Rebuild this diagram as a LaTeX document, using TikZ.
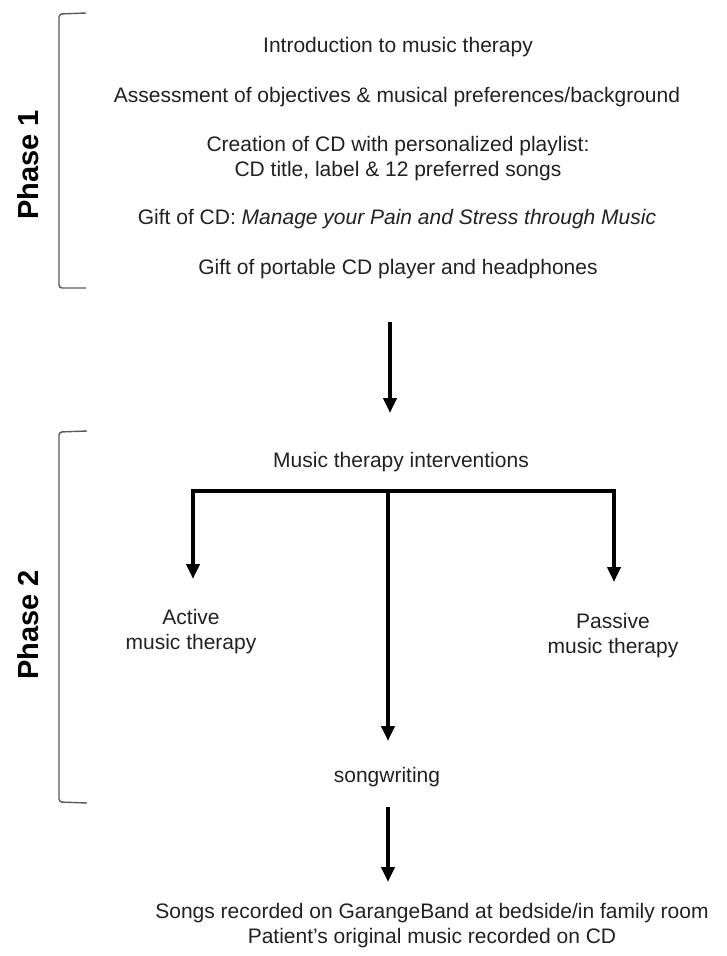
\documentclass[tikz,border=0pt]{standalone}
\usepackage{fontspec}
\setmainfont{Liberation Sans}
\usetikzlibrary{arrows.meta}
\definecolor{txt}{rgb}{0.13,0.13,0.13}
\definecolor{brk}{rgb}{0.35,0.35,0.35}
\begin{document}
\begin{tikzpicture}[x=1pt,y=-1pt,
  lbl/.style={text=txt,inner sep=0pt,anchor=base,align=center,font=\fontsize{21}{25}\selectfont},
  phase/.style={text=black,inner sep=0pt,rotate=90,font=\fontsize{29}{34}\selectfont\bfseries},
  bracket/.style={draw=brk,line width=1.4pt,rounded corners=3pt},
  flow/.style={draw=black,line width=4.5pt,-{Triangle[width=13pt,length=15pt]}},
  bar/.style={draw=black,line width=4.5pt}]
\useasboundingbox (0,0) rectangle (726,956);

% Phase 1
\node[phase] (p1) at (28,165) {Phase 1};
\draw[bracket] (86,13) -- (59,14) -- (59,288) -- (86,288);
\node[lbl] (intro) at (398,52) {Introduction to music therapy};
\node[lbl] (assess) at (397,102) {Assessment of objectives \& musical preferences/background};
\node[lbl] (create) at (398,176) {Creation of CD with personalized playlist:\\CD title, label \& 12 preferred songs};
\node[lbl] (gift) at (397,224) {Gift of CD: \textit{Manage your Pain and Stress through Music}};
\node[lbl] (player) at (398,274) {Gift of portable CD player and headphones};

\coordinate (a1s) at (390,322);
\coordinate (a1e) at (390,413);
\draw[flow] (a1s) -- (a1e);

% Phase 2
\node[phase] (p2) at (28,625) {Phase 2};
\draw[bracket] (87,431) -- (59,432) -- (59,802) -- (87,803);
\node[lbl] (mti) at (401,467) {Music therapy interventions};
\coordinate (bl) at (193,491);
\coordinate (bc) at (388,491);
\coordinate (br) at (614,491);
\coordinate (al) at (193,579);
\coordinate (ar) at (614,582);
\coordinate (ac) at (388,741);
\draw[bar,line cap=rect] (bl) -- (br);
\draw[flow] (bl) -- (al);
\draw[flow] (br) -- (ar);
\draw[flow] (bc) -- (ac);
\node[lbl] (active) at (191,649) {Active\\music therapy};
\node[lbl] (passive) at (613,653) {Passive\\music therapy};
\node[lbl] (song) at (387,782) {songwriting};

\coordinate (a3s) at (388,807);
\coordinate (a3e) at (388,882);
\draw[flow] (a3s) -- (a3e);
\node[lbl] (rec) at (432,943) {Songs recorded on GarangeBand at bedside/in family room\\Patient’s original music recorded on CD};
\end{tikzpicture}
\end{document}
